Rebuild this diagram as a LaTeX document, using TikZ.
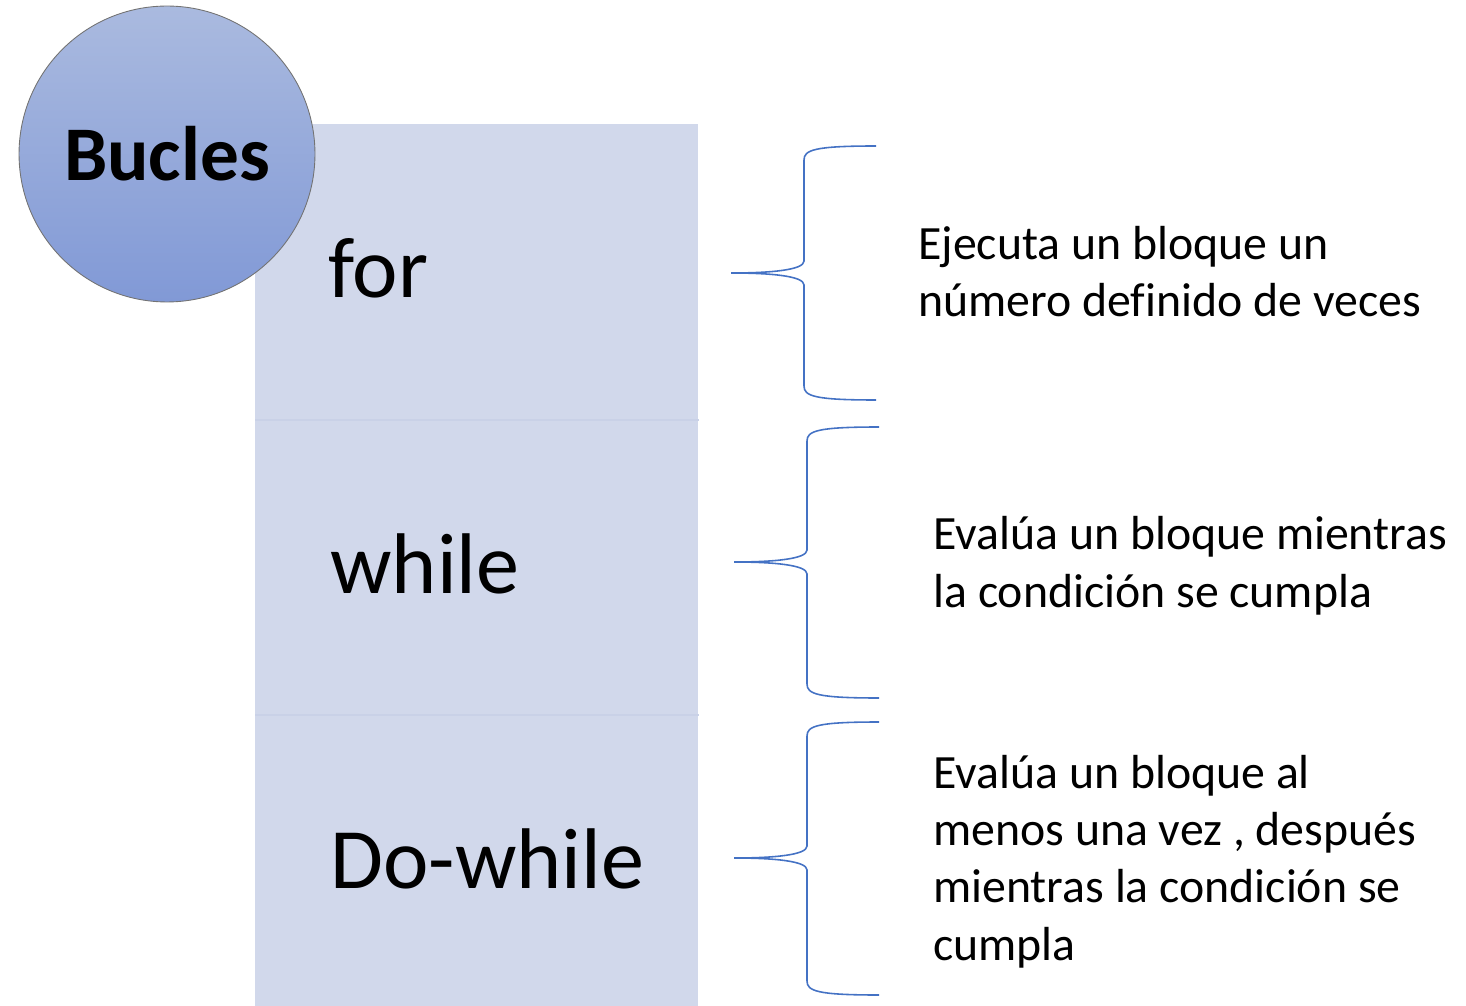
\documentclass[tikz,border=0pt]{standalone}
\usepackage{fontspec}
\setmainfont[Ligatures=NoCommon]{Carlito}
\usetikzlibrary{calc,positioning}
\definecolor{bucleBlue}{HTML}{4472C4}
\definecolor{bucleFill}{HTML}{D1D8EB}
\definecolor{bucleLine}{HTML}{C9D1E7}
\definecolor{bucleTop}{HTML}{AABADF}
\definecolor{bucleBot}{HTML}{8199D6}
\tikzset{
  seccion/.style={fill=bucleFill,draw=none,minimum width=8.86cm,anchor=north west,inner sep=0pt},
  palabra/.style={anchor=base west,inner sep=0pt,font=\fontsize{49}{58}\selectfont},
  nota/.style={anchor=base west,inner sep=0pt,align=left,font=\fontsize{27.2}{32.6}\selectfont},
  llave/.style={draw=bucleBlue,line width=0.9pt}
}
% brace: tip x, tip y, top y, bottom y
\newcommand{\bucleBrace}[4]{%
  \draw[llave] ({#1+145},#3) .. controls ({#1+83},#3) and ({#1+73},{#3+4}) .. ({#1+73},{#3+14})
    -- ({#1+73},{#2-12}) .. controls ({#1+73},{#2-3}) and ({#1+40},#2) .. (#1,#2)
    .. controls ({#1+40},#2) and ({#1+73},{#2+3}) .. ({#1+73},{#2+12})
    -- ({#1+73},{#4-14}) .. controls ({#1+73},{#4-4}) and ({#1+83},#4) .. ({#1+145},#4);}

\begin{document}
\begin{tikzpicture}[x=0.02cm,y=-0.02cm]
\useasboundingbox (0,0) rectangle (1466,1006);

% column of loops
\node[seccion,minimum height=5.92cm] (sfor) at (255,124) {};
\node[seccion,minimum height=5.90cm] (swhile) at (255,420) {};
\node[seccion,minimum height=5.82cm] (sdo) at (255,715) {};
\draw[bucleLine,line width=0.6pt] (swhile.north west) -- (swhile.north east);
\draw[bucleLine,line width=0.6pt] (sdo.north west) -- (sdo.north east);

\node[palabra] (tfor) at (328,298) {for};
\node[palabra] (twhile) at (330,593) {while};
\node[palabra] (tdo) at (330,888) {Do-while};

% title circle
\node[circle,minimum size=5.92cm,draw=black!55,line width=0.5pt,
      top color=bucleTop,bottom color=bucleBot,
      font=\bfseries\fontsize{44}{52}\selectfont] (bucles) at (167,154) {Bucles};

% braces
\bucleBrace{731}{273}{146}{400}
\bucleBrace{734}{562}{427}{698}
\bucleBrace{734}{858}{722}{995}

% descriptions (anchored on the last line)
\node[nota] (dfor) at (918,317) {Ejecuta un bloque un\\número definido de veces};
\node[nota] (dwhile) at (933,607) {Evalúa un bloque mientras\\la condición se cumpla};
\node[nota] (ddo) at (933,960) {Evalúa un bloque al\\menos una vez , después\\mientras la condición se\\cumpla};
\end{tikzpicture}
\end{document}
